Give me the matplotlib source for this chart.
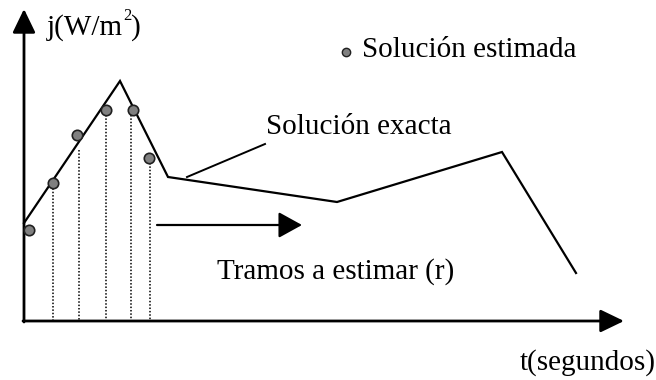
import matplotlib
matplotlib.use("Agg")
import matplotlib.pyplot as plt

# Exact solution polyline (t, j) in picture units (y grows downward)
exact_t = [24, 120, 168, 337, 502, 576]
exact_j = [223, 81, 177, 202, 152, 273]

# Estimated solution points
est_t = [29, 53, 77, 106, 133, 149]
est_j = [230, 183, 135, 110, 110, 158]

# Dotted stems (t positions and top)
stem_t = [53, 79, 106, 131, 150]
stem_top = [185, 150, 115, 115, 163]

axis_y = 321
axis_x = 24
FS = 21

fig = plt.figure(figsize=(6.56, 3.80), dpi=100)
ax = fig.add_axes([0, 0, 1, 1])
ax.set_xlim(0, 656)
ax.set_ylim(380, 0)
ax.axis("off")

font = dict(family=["Liberation Serif", "DejaVu Serif"], color="black")

# Axes arrows
ax.annotate("", xy=(axis_x, 9), xytext=(axis_x, axis_y + 1),
            arrowprops=dict(arrowstyle="-|>,head_length=1.45,head_width=0.7", lw=2, color="black",
                            shrinkA=0, shrinkB=0))
ax.annotate("", xy=(624, axis_y), xytext=(axis_x - 1, axis_y),
            arrowprops=dict(arrowstyle="-|>,head_length=1.45,head_width=0.7", lw=2, color="black",
                            shrinkA=0, shrinkB=0))

# Stems
for t, top in zip(stem_t, stem_top):
    ax.plot([t, t], [top, axis_y], ls=(0, (1, 1.2)), color="black", lw=1.1)

# Exact solution
ax.plot(exact_t, exact_j, color="black", lw=1.6, solid_joinstyle="miter")

# Estimated points
ax.plot(est_t, est_j, "o", ms=7.5, mfc="#808080", mec="#202020", mew=1.2, zorder=5)

# Legend marker
ax.plot([346], [52], "o", ms=6, mfc="#808080", mec="#202020", mew=1.0)
ax.text(362, 57, "Solución estimada", fontsize=FS, va="baseline", ha="left", **font)

# y label with small superscript
t1 = ax.text(47, 35, "j(W/m", fontsize=FS, va="baseline", ha="left", **font)
fig.canvas.draw()
r = fig.canvas.get_renderer()
bb = t1.get_window_extent(r)
x_end = ax.transData.inverted().transform((bb.x1, 0))[0]
t2 = ax.text(x_end, 20, "2", fontsize=12, va="baseline", ha="left", **font)
bb2 = t2.get_window_extent(r)
x_end2 = ax.transData.inverted().transform((bb2.x1, 0))[0]
ax.text(x_end2, 35, ")", fontsize=FS, va="baseline", ha="left", **font)

ax.text(656, 370, "t(segundos)", fontsize=FS, va="baseline", ha="right", **font)
ax.text(266, 134, "Solución exacta", fontsize=FS, va="baseline", ha="left", **font)
ax.plot([265, 187], [144, 177], color="black", lw=1.4)
ax.text(217, 279, "Tramos a estimar (r)", fontsize=FS, va="baseline", ha="left", **font)

# Tramos arrow
ax.annotate("", xy=(302, 225), xytext=(157, 225),
            arrowprops=dict(arrowstyle="-|>,head_length=1.45,head_width=0.8", lw=1.6, color="black",
                            shrinkA=0, shrinkB=0))

fig.savefig("out.png", dpi=100)
